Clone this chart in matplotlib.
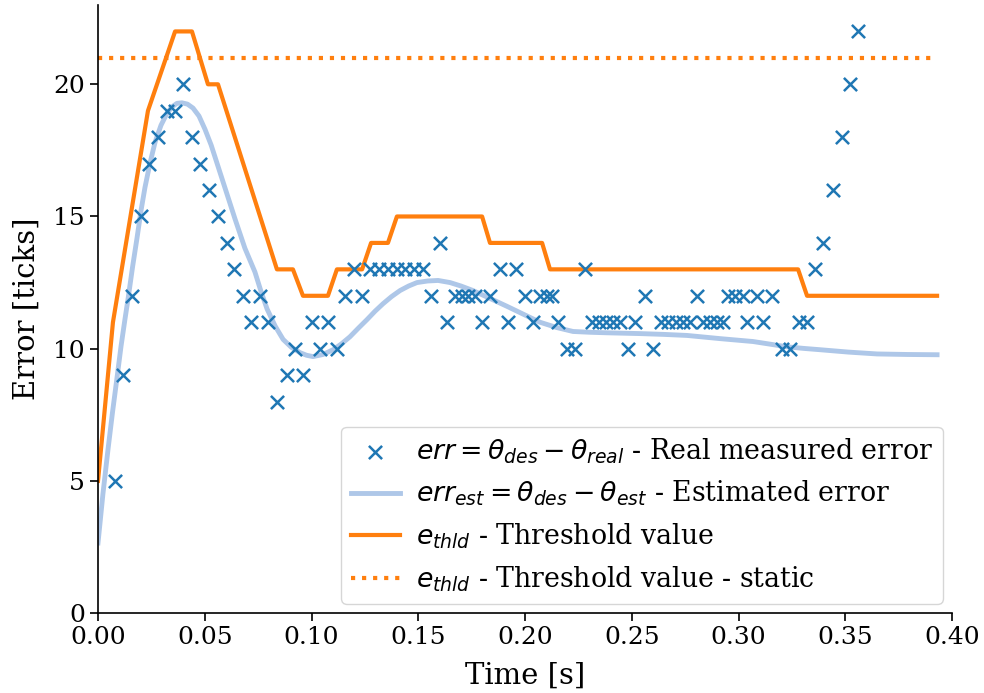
import matplotlib
matplotlib.use("Agg")
import matplotlib.pyplot as plt

# Real measured error samples
t_meas = [0.0080, 0.0117, 0.0159, 0.0201, 0.0239, 0.0281, 0.0323, 0.0361, 0.0398, 0.0440,
          0.0478, 0.0520, 0.0562, 0.0604, 0.0637, 0.0679, 0.0717, 0.0759, 0.0796, 0.0838,
          0.0885, 0.0923, 0.0960, 0.1002, 0.1040, 0.1077, 0.1119, 0.1157, 0.1199, 0.1237,
          0.1274, 0.1316, 0.1358, 0.1400, 0.1438, 0.1480, 0.1522, 0.1560, 0.1602, 0.1635,
          0.1672, 0.1705, 0.1733, 0.1766, 0.1799, 0.1836, 0.1883, 0.1920, 0.1958, 0.2000,
          0.2037, 0.2070, 0.2103, 0.2126, 0.2155, 0.2197, 0.2234, 0.2281, 0.2314, 0.2347,
          0.2379, 0.2412, 0.2445, 0.2482, 0.2515, 0.2562, 0.2600, 0.2637, 0.2670, 0.2707,
          0.2740, 0.2773, 0.2806, 0.2834, 0.2866, 0.2899, 0.2927, 0.2951, 0.2984, 0.3021,
          0.3040, 0.3087, 0.3115, 0.3157, 0.3204, 0.3241, 0.3283, 0.3321, 0.3358, 0.3396,
          0.3443, 0.3485, 0.3522, 0.3560]
err_meas = [5, 9, 12, 15, 17, 18, 19, 19, 20, 18,
            17, 16, 15, 14, 13, 12, 11, 12, 11, 8,
            9, 10, 9, 11, 10, 11, 10, 12, 13, 12,
            13, 13, 13, 13, 13, 13, 13, 12, 14, 11,
            12, 12, 12, 12, 11, 12, 13, 11, 13, 12,
            11, 12, 12, 12, 11, 10, 10, 13, 11, 11,
            11, 11, 11, 10, 11, 12, 10, 11, 11, 11,
            11, 11, 12, 11, 11, 11, 11, 12, 12, 12,
            11, 12, 11, 12, 10, 10, 11, 11, 13, 14,
            16, 18, 20, 22]

# Estimated error curve
t_est = [0.0, 0.0023, 0.0047, 0.0068, 0.0089, 0.0108, 0.0126, 0.0141, 0.0162, 0.0183,
         0.0201, 0.0220, 0.0243, 0.0267, 0.0295, 0.0323, 0.0347, 0.0370, 0.0393, 0.0419,
         0.0445, 0.0473, 0.0501, 0.0530, 0.0562, 0.0600, 0.0642, 0.0688, 0.0735, 0.0764,
         0.0792, 0.0830, 0.0867, 0.0906, 0.0946, 0.0977, 0.1007, 0.1054, 0.1101, 0.1140,
         0.1180, 0.1220, 0.1260, 0.1298, 0.1335, 0.1375, 0.1415, 0.1455, 0.1494, 0.1544,
         0.1593, 0.1649, 0.1700, 0.1756, 0.1836, 0.1916, 0.1993, 0.2070, 0.2148, 0.2225,
         0.2305, 0.2384, 0.2539, 0.2649, 0.2759, 0.2913, 0.3068, 0.3148, 0.3227, 0.3305,
         0.3382, 0.3515, 0.3649, 0.3790, 0.3930]
err_est = [2.65, 4.5, 6.2, 7.6, 8.9, 10.1, 11.1, 11.9, 13.1, 14.2,
           15.2, 16.1, 17.0, 17.8, 18.45, 18.9, 19.15, 19.28, 19.3, 19.25,
           19.1, 18.8, 18.3, 17.7, 16.9, 15.95, 14.9, 13.8, 12.9, 12.15,
           11.5, 10.85, 10.35, 10.05, 9.85, 9.75, 9.7, 9.78, 9.96, 10.18,
           10.45, 10.78, 11.1, 11.42, 11.7, 11.97, 12.2, 12.37, 12.5, 12.56,
           12.58, 12.5, 12.37, 12.2, 11.9, 11.6, 11.3, 11.0, 10.8, 10.65,
           10.62, 10.6, 10.57, 10.54, 10.5, 10.38, 10.27, 10.17, 10.07, 10.01,
           9.96, 9.87, 9.8, 9.78, 9.77]

# Dynamic threshold
t_thld = [0.0, 0.0070, 0.0234, 0.0361, 0.0440, 0.0515, 0.0562, 0.0838, 0.0913, 0.0960,
          0.1077, 0.1119, 0.1237, 0.1279, 0.1358, 0.1400, 0.1799, 0.1836, 0.2080, 0.2117,
          0.3279, 0.3321, 0.3930]
e_thld = [5, 11, 19, 22, 22, 20, 20, 13, 13, 12,
          12, 13, 13, 14, 14, 15, 15, 14, 14, 13,
          13, 12, 12]

# Static threshold
t_static = [0.0, 0.3930]
e_static = [21, 21]

plt.rcParams['font.family'] = ['DejaVu Serif']

fig = plt.figure(figsize=(9.84, 6.93), dpi=100)
ax = fig.add_axes([0.0996, 0.1154, 0.8679, 0.8774])

ax.scatter(t_meas, err_meas, marker='x', s=90, color='#1f77b4', linewidths=1.8,
           label=r'$err = \theta_{des} - \theta_{real}$ - Real measured error', zorder=3)
ax.plot(t_est, err_est, color='#aec7e8', lw=3.5,
        label=r'$err_{est} = \theta_{des} - \theta_{est}$ - Estimated error', zorder=2)
ax.plot(t_thld, e_thld, color='#ff7f0e', lw=3,
        label=r'$e_{thld}$ - Threshold value', zorder=2)
ax.plot(t_static, e_static, color='#ff7f0e', lw=3, linestyle=':',
        label=r'$e_{thld}$ - Threshold value - static', zorder=2)

ax.set_xlim(0, 0.40)
ax.set_ylim(0, 23)
ax.set_xticks([0.0, 0.05, 0.10, 0.15, 0.20, 0.25, 0.30, 0.35, 0.40])
ax.set_xticklabels(['0.00', '0.05', '0.10', '0.15', '0.20', '0.25', '0.30', '0.35', '0.40'])
ax.set_yticks([0, 5, 10, 15, 20])
ax.tick_params(labelsize=18, length=6, width=1.2)
ax.spines['top'].set_visible(False)
ax.spines['right'].set_visible(False)
ax.spines['left'].set_linewidth(1.2)
ax.spines['bottom'].set_linewidth(1.2)
ax.set_xlabel('Time [s]', fontsize=21, labelpad=9)
ax.set_ylabel('Error [ticks]', fontsize=21, labelpad=9)

ax.legend(loc='lower right', fontsize=19.3, scatterpoints=1, handlelength=1.85,
          handletextpad=0.6, labelspacing=0.5, borderpad=0.35, borderaxespad=0.35)

fig.savefig('out.png', dpi=100)
